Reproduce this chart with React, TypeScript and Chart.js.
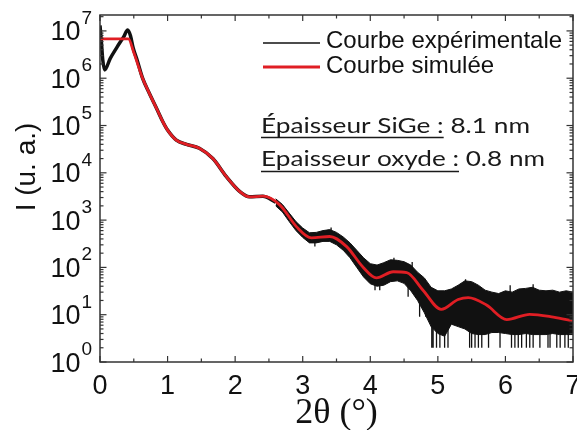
import React, { useEffect, useRef } from "react";
import { Chart, registerables } from "chart.js";

Chart.register(...registerables);

// Simulated curve (red)
const simX = [0, 0.42, 0.5, 0.63, 0.73, 0.85, 0.93, 1.0, 1.13, 1.28, 1.47, 1.67, 1.87, 2.07, 2.21, 2.41, 2.66, 2.91, 3.13, 3.4, 3.65, 3.89, 4.09, 4.34, 4.54, 4.78, 5.05, 5.3, 5.45, 5.72, 6.02, 6.36, 6.71, 7.0];
const simY = [6.8e6, 6.8e6, 3.5e6, 1.0e6, 4.8e5, 2.1e5, 1.2e5, 8.0e4, 4.9e4, 4.0e4, 3.3e4, 2.0e4, 8300, 4000, 3100, 3200, 2100, 720, 420, 450, 275, 102, 60, 81, 78, 33, 13, 21, 23, 16, 7.9, 10.2, 8.9, 7.4];

// Experimental curve, low-angle (smooth) part
const expX = [0, 0.02, 0.04, 0.07, 0.15, 0.25, 0.35, 0.41, 0.45, 0.49, 0.55, 0.63, 0.73, 0.85, 0.93, 1.0, 1.13, 1.28, 1.47, 1.67, 1.87, 2.07, 2.21, 2.41, 2.6];
const expY = [1.3e7, 6e6, 2.5e6, 1.5e6, 2.6e6, 4.5e6, 7.5e6, 1.05e7, 8e6, 4.4e6, 2.4e6, 1.0e6, 4.8e5, 2.1e5, 1.2e5, 8.0e4, 4.9e4, 4.0e4, 3.3e4, 2.0e4, 8300, 4000, 3100, 3200, 2400];

// Experimental curve, noisy part: upper / lower envelope
const noiseX = [2.6, 2.7, 2.8, 2.9, 3.0, 3.1, 3.2, 3.3, 3.4, 3.5, 3.6, 3.7, 3.8, 3.9, 4.0, 4.1, 4.2, 4.3, 4.4, 4.5, 4.6, 4.7, 4.8, 4.9, 5.0, 5.1, 5.2, 5.3, 5.4, 5.5, 5.6, 5.7, 5.8, 5.9, 6.0, 6.1, 6.2, 6.3, 6.4, 6.5, 6.6, 6.7, 6.8, 6.9, 7.0];
const noiseHi = [2820, 2140, 1410, 930, 680, 540, 550, 600, 630, 550, 440, 330, 230, 160, 120, 112, 126, 145, 141, 132, 112, 79, 60, 38, 32, 32, 35, 42, 52, 50, 42, 33, 30, 28, 32, 30, 35, 36, 38, 33, 32, 33, 30, 32, 30];
const noiseLo = [2000, 1480, 930, 600, 430, 330, 330, 355, 355, 300, 230, 160, 100, 63, 45, 40, 42, 50, 52, 46, 32, 20, 11, 5.6, 4.0, 3.5, 6.3, 5.6, 5.0, 4.0, 3.8, 3.8, 4.2, 4.2, 4.0, 3.8, 3.8, 4.0, 3.8, 3.8, 3.8, 4.0, 3.8, 3.8, 3.8];

// Individual spikes of the experimental curve
const spikeX = [3.18, 3.42, 4.07, 4.14, 4.35, 4.56, 4.62, 4.73, 4.82, 4.91, 4.93, 4.98, 5.03, 5.1, 5.15, 5.41, 5.47, 5.5, 5.55, 5.6, 5.65, 5.75, 5.92, 6.07, 6.09, 6.14, 6.19, 6.24, 6.31, 6.36, 6.41, 6.41, 6.51, 6.63, 6.66, 6.76, 6.81, 6.88, 6.93];
const spikeLow = [275, 500, 33, 33, 100, 24, 80, 9, 9, 2, 2, 2, 2, 2, 2, 30, 2, 2, 2, 2, 2, 2, 2, 25, 2, 2, 2, 2, 2, 2, 25, 2, 2, 2, 2, 2, 2, 2, 2];
const spikeHigh = [400, 700, 50, 50, 160, 50, 130, 25, 15, 6, 6, 6, 5, 5, 6, 56, 5, 5, 5, 5, 5, 5, 5, 42, 5, 5, 5, 5, 5, 5, 44, 5, 5, 5, 5, 5, 5, 5, 5];

// Axes
const xMajor = [0, 1, 2, 3, 4, 5, 6, 7];
const xMinor = [0.5, 1.5, 2.5, 3.5, 4.5, 5.5, 6.5];
const yExponents = [0, 1, 2, 3, 4, 5, 6, 7];
const xTitle = "2θ (°)";
const yTitle = "I (u. a.)";
const legendLabels = ["Courbe expérimentale", "Courbe simulée"];
const noteLabels = ["Épaisseur SiGe :", "Epaisseur oxyde :"];
const noteValues = [" 8.1 nm", " 0.8 nm"];

const RED = "#e01e24";
const BLACK = "#111111";

const pts = (xs: number[], ys: number[]) => xs.map((x, i) => ({ x, y: ys[i] }));

const decor = {
  id: "decor",
  afterDraw(chart: any) {
    const { ctx, chartArea: a, scales } = chart;
    const sx = scales.x;
    const sy = scales.y;
    ctx.save();
    ctx.strokeStyle = "#333";
    ctx.lineWidth = 1.5;
    ctx.strokeRect(a.left, a.top, a.right - a.left, a.bottom - a.top);
    const seg = (x1: number, y1: number, x2: number, y2: number) => {
      ctx.beginPath();
      ctx.moveTo(x1, y1);
      ctx.lineTo(x2, y2);
      ctx.stroke();
    };
    ctx.lineWidth = 1.2;
    xMajor.forEach((v) => {
      const p = sx.getPixelForValue(v);
      seg(p, a.bottom, p, a.bottom - 6);
      seg(p, a.top, p, a.top + 6);
    });
    xMinor.forEach((v) => {
      const p = sx.getPixelForValue(v);
      seg(p, a.bottom, p, a.bottom - 3.5);
      seg(p, a.top, p, a.top + 3.5);
    });
    yExponents.forEach((e) => {
      const p = sy.getPixelForValue(Math.pow(10, e));
      seg(a.left, p, a.left + 6.5, p);
      seg(a.right, p, a.right - 6.5, p);
      for (let m = 2; m <= 9; m++) {
        const v = m * Math.pow(10, e);
        if (v > sy.max) break;
        const q = sy.getPixelForValue(v);
        seg(a.left, q, a.left + 3.5, q);
        seg(a.right, q, a.right - 3.5, q);
      }
    });

    ctx.fillStyle = BLACK;
    // y labels
    yExponents.forEach((e) => {
      const p = sy.getPixelForValue(Math.pow(10, e));
      ctx.font = '19px "Liberation Sans", Arial, sans-serif';
      const es = String(e);
      const we = ctx.measureText(es).width;
      ctx.font = '27px "Liberation Sans", Arial, sans-serif';
      const wb = ctx.measureText("10").width;
      const right = 92;
      ctx.textAlign = "left";
      ctx.textBaseline = "alphabetic";
      ctx.fillText("10", right - we - 1 - wb, p + 9.5);
      ctx.font = '19px "Liberation Sans", Arial, sans-serif';
      ctx.fillText(es, right - we, p - 7);
    });
    // x labels
    ctx.font = '27px "Liberation Sans", Arial, sans-serif';
    ctx.textAlign = "center";
    xMajor.forEach((v) => {
      ctx.fillText(String(v), sx.getPixelForValue(v), 394);
    });
    // x title
    ctx.font = '36px "Liberation Serif", "Times New Roman", serif';
    ctx.fillText(xTitle, (a.left + a.right) / 2, 423);
    // y title
    ctx.save();
    ctx.translate(35, 167);
    ctx.rotate(-Math.PI / 2);
    ctx.font = '28px "Liberation Sans", Arial, sans-serif';
    ctx.textAlign = "center";
    ctx.fillText(yTitle, 0, 0);
    ctx.restore();

    // legend
    ctx.font = '24px "Liberation Sans", Arial, sans-serif';
    ctx.textAlign = "left";
    const legColors = [BLACK, RED];
    const legWidths = [1.6, 3];
    const legBase = [48, 73];
    const legLine = [43, 67];
    legendLabels.forEach((t, i) => {
      ctx.strokeStyle = legColors[i];
      ctx.lineWidth = legWidths[i];
      seg(263, legLine[i], 320, legLine[i]);
      ctx.fillText(t, 326, legBase[i]);
    });

    // notes
    const noteTarget = [269, 284];
    const noteBase = [133, 166];
    const noteUnder = [137.5, 171.5];
    ctx.font = '22px Lato, "Open Sans", sans-serif';
    noteLabels.forEach((lab, i) => {
      const full = lab + noteValues[i];
      const wFull = ctx.measureText(full).width;
      const k = noteTarget[i] / wFull;
      const wLab = ctx.measureText(lab).width * k;
      ctx.save();
      ctx.translate(261, noteBase[i]);
      ctx.scale(k, 1);
      ctx.fillStyle = "#1a1a1a";
      ctx.fillText(full, 0, 0);
      ctx.restore();
      ctx.strokeStyle = "#1a1a1a";
      ctx.lineWidth = 1.5;
      seg(261, noteUnder[i], 261 + wLab, noteUnder[i]);
    });
    ctx.restore();
  },
};

export default function App() {
  const ref = useRef<HTMLCanvasElement | null>(null);
  useEffect(() => {
    document.body.style.margin = "0";
    const spikeData: any[] = [];
    spikeX.forEach((x, i) => {
      spikeData.push({ x, y: spikeLow[i] });
      spikeData.push({ x, y: spikeHigh[i] });
      spikeData.push({ x, y: null });
    });
    const chart = new Chart(ref.current as HTMLCanvasElement, {
      type: "line",
      data: {
        datasets: [
          {
            label: legendLabels[1],
            data: pts(simX, simY),
            borderColor: RED,
            borderWidth: 2.8,
            cubicInterpolationMode: "monotone",
            pointRadius: 0,
            fill: false,
          },
          {
            label: legendLabels[0],
            data: pts(expX, expY),
            borderColor: BLACK,
            borderWidth: 3.5,
            cubicInterpolationMode: "monotone",
            pointRadius: 0,
            fill: false,
          },
          {
            label: "lo",
            data: pts(noiseX, noiseLo),
            borderColor: BLACK,
            borderWidth: 1,
            pointRadius: 0,
            fill: false,
          },
          {
            label: "hi",
            data: pts(noiseX, noiseHi),
            borderColor: BLACK,
            borderWidth: 1,
            pointRadius: 0,
            fill: "-1",
            backgroundColor: BLACK,
          },
          {
            label: "spikes",
            data: spikeData,
            borderColor: BLACK,
            borderWidth: 1.3,
            pointRadius: 0,
            spanGaps: false,
            fill: false,
          },
        ],
      },
      options: {
        responsive: false,
        animation: false,
        devicePixelRatio: 1,
        layout: { padding: { left: 100, top: 15, right: 4, bottom: 68 } },
        scales: {
          x: { type: "linear", min: 0, max: 7, display: false },
          y: { type: "logarithmic", min: 1, max: 2.17e7, display: false },
        },
        plugins: {
          legend: { display: false },
          tooltip: { enabled: false },
        },
      } as any,
      plugins: [decor],
    } as any);
    return () => chart.destroy();
  }, []);
  return <canvas ref={ref} width={577} height={430} style={{ display: "block" }} />;
}
